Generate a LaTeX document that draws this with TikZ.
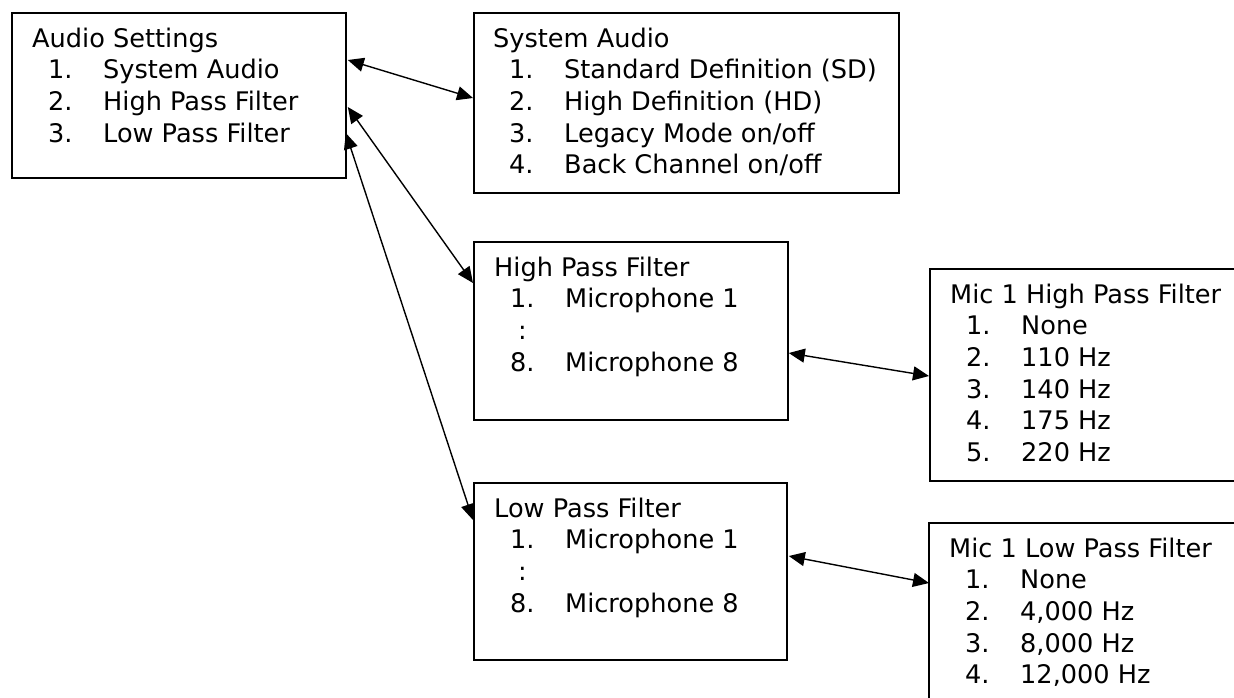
\documentclass[tikz,border=0pt]{standalone}
\usepackage{fontspec}
\setmainfont{DejaVu Sans}
\usetikzlibrary{arrows.meta,calc}
\newcommand{\itm}[2]{\hspace*{16pt}\makebox[55pt][l]{#1}#2}
\newcommand{\dotsline}{\hspace*{24pt}:}
\begin{document}
\begin{tikzpicture}[x=1pt,y=-1pt,
  menubox/.style={draw,line width=1.8pt,rectangle,inner sep=0pt,anchor=north west},
  menutext/.style={anchor=base west,inner sep=0pt,font=\fontsize{25.6}{31.7}\selectfont},
  arr/.style={line width=1.4pt,{Triangle[length=16pt,width=14pt]}-{Triangle[length=16pt,width=14pt]}}]
\useasboundingbox (0,0) rectangle (1234,697);
\clip (0,0) rectangle (1234,697);
\fill[white] (0,0) rectangle (1234,697);
% boxes
\node[menubox,minimum width=334pt,minimum height=165pt] (A) at (11,12) {};
\node[menubox,minimum width=425pt,minimum height=180pt] (B) at (473,12) {};
\node[menubox,minimum width=314pt,minimum height=178pt] (C) at (473,241) {};
\node[menubox,minimum width=313pt,minimum height=177pt] (E) at (473,482) {};
\node[menubox,minimum width=380pt,minimum height=212pt] (D) at (929,268) {};
\node[menubox,minimum width=380pt,minimum height=240pt] (F) at (928,522) {};
% texts
\node[menutext] (tA) at ($(A.north west)+(21,35)$) {\parbox[t]{450pt}{\raggedright Audio Settings\\
\itm{1.}{System Audio}\\
\itm{2.}{High Pass Filter}\\
\itm{3.}{Low Pass Filter}}};
\node[menutext] (tB) at ($(B.north west)+(20,35)$) {\parbox[t]{450pt}{\raggedright System Audio\\
\itm{1.}{Standard Definition (SD)}\\
\itm{2.}{High Definition (HD)}\\
\itm{3.}{Legacy Mode on/off}\\
\itm{4.}{Back Channel on/off}}};
\node[menutext] (tC) at ($(C.north west)+(21,35)$) {\parbox[t]{450pt}{\raggedright High Pass Filter\\
\itm{1.}{Microphone 1}\\
\dotsline\\
\itm{8.}{Microphone 8}}};
\node[menutext] (tE) at ($(E.north west)+(21,35)$) {\parbox[t]{450pt}{\raggedright Low Pass Filter\\
\itm{1.}{Microphone 1}\\
\dotsline\\
\itm{8.}{Microphone 8}}};
\node[menutext] (tD) at ($(D.north west)+(21,35)$) {\parbox[t]{450pt}{\raggedright Mic 1 High Pass Filter\\
\itm{1.}{None}\\
\itm{2.}{110 Hz}\\
\itm{3.}{140 Hz}\\
\itm{4.}{175 Hz}\\
\itm{5.}{220 Hz}}};
\node[menutext] (tF) at ($(F.north west)+(21,35)$) {\parbox[t]{450pt}{\raggedright Mic 1 Low Pass Filter\\
\itm{1.}{None}\\
\itm{2.}{4,000 Hz}\\
\itm{3.}{8,000 Hz}\\
\itm{4.}{12,000 Hz}}};
% connectors
\draw[arr] ($(A.north east)+(1,48)$) -- ($(B.north west)+(0,86)$);
\draw[arr] ($(A.north east)+(1,95)$) -- ($(C.north west)+(0,42)$);
\draw[arr] ($(A.north east)+(-1,121)$) -- ($(E.north west)+(0,38)$);
\draw[arr] ($(C.north east)+(0,112)$) -- ($(D.north west)+(0,108)$);
\draw[arr] ($(E.north east)+(1,74)$) -- ($(F.north west)+(1,61)$);
\end{tikzpicture}
\end{document}
